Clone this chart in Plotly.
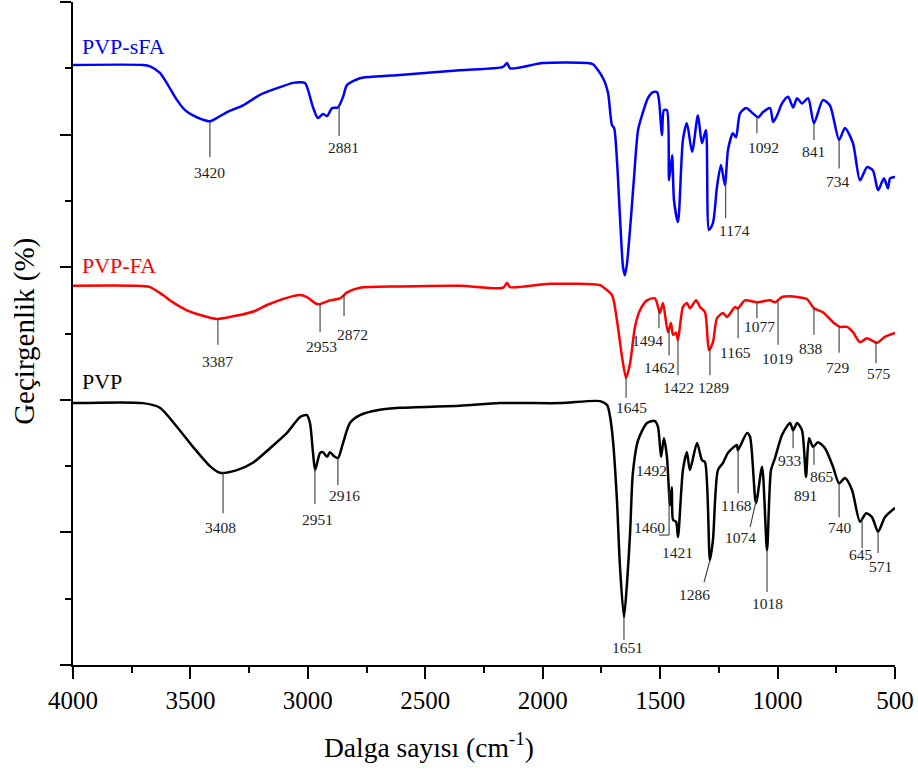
import numpy as np
import plotly.graph_objects as go

# ---------------- data (wavenumber in cm-1, transmittance in arbitrary %, curves offset) -------------
blue_wn = [4000, 3702, 3672, 3630, 3596, 3557, 3523, 3489, 3451, 3417, 3383, 3344, 3276, 3204, 3131,
           3063, 3033, 3012, 2999, 2978, 2957, 2936, 2918, 2897, 2872, 2850, 2833, 2778, 2693, 2608,
           2352, 2169, 2152, 2139, 1999, 1811, 1786, 1743, 1722, 1705, 1696, 1684, 1671, 1658, 1650,
           1641, 1624, 1611, 1594, 1573, 1552, 1530, 1513, 1505, 1492, 1484, 1471, 1462, 1449, 1441,
           1424, 1403, 1386, 1364, 1339, 1322, 1305, 1292, 1275, 1258, 1241, 1224, 1211, 1190, 1177,
           1160, 1134, 1105, 1083, 1062, 1032, 1019, 1002, 981, 955, 934, 917, 896, 870, 845,
           807, 777, 738, 713, 679, 649, 619, 594, 572, 547, 530, 521, 500]
blue_T = [90.5, 90.5, 90.3, 89.3, 87.5, 85.2, 83.7, 82.9, 82.3, 82.0, 82.6, 83.4, 84.4, 86.0, 87.0,
          87.8, 87.9, 87.8, 86.7, 84.1, 82.5, 83.1, 82.8, 84.0, 84.1, 85.7, 87.5, 88.5, 88.8, 89.0,
          89.7, 90.2, 90.8, 90.0, 90.8, 90.8, 90.6, 88.5, 86.3, 81.4, 81.0, 76.2, 67.6, 60.0, 58.8,
          60.6, 67.6, 73.6, 80.7, 83.4, 85.5, 86.4, 86.4, 85.2, 79.9, 83.7, 83.7, 73.1, 76.9, 70.1,
          66.8, 79.2, 81.7, 77.4, 82.9, 78.7, 80.7, 65.6, 66.7, 72.1, 75.4, 72.4, 77.7, 80.2, 79.6,
          83.2, 84.0, 83.2, 82.6, 83.4, 84.0, 81.9, 82.9, 84.7, 85.7, 84.1, 85.5, 84.7, 85.5, 81.7,
          85.2, 84.4, 79.2, 81.0, 78.7, 73.1, 75.1, 74.6, 71.6, 73.4, 71.9, 73.4, 73.6]

red_wn = [4000, 3745, 3672, 3617, 3574, 3515, 3459, 3387, 3289, 3225, 3174, 3097, 3033, 3004, 2957,
          2906, 2863, 2833, 2778, 2608, 2352, 2169, 2152, 2139, 1969, 1756, 1743, 1705, 1684, 1662,
          1645, 1628, 1607, 1586, 1556, 1522, 1501, 1488, 1467, 1454, 1445, 1432, 1424, 1403, 1386,
          1373, 1347, 1330, 1309, 1292, 1275, 1258, 1232, 1215, 1181, 1169, 1139, 1088, 1032, 1011,
          981, 947, 917, 875, 845, 807, 764, 734, 704, 679, 649, 619, 577, 543, 500]
red_T = [57.2, 57.2, 57.0, 55.8, 54.7, 53.5, 52.8, 52.2, 52.8, 53.4, 54.3, 55.3, 55.8, 55.5, 54.4,
         55.0, 55.3, 56.2, 56.9, 57.1, 57.2, 56.9, 57.6, 57.0, 57.5, 57.3, 57.0, 55.8, 52.0, 46.4,
         43.3, 45.5, 51.0, 53.5, 55.0, 55.3, 53.1, 54.6, 50.2, 51.6, 49.8, 50.1, 49.0, 54.0, 54.6,
         53.8, 55.0, 54.0, 53.2, 47.5, 48.7, 52.3, 53.1, 52.5, 54.0, 53.8, 55.0, 54.7, 55.0, 54.7,
         55.5, 55.6, 55.5, 55.2, 53.8, 53.2, 51.7, 51.0, 51.0, 50.2, 48.7, 49.3, 48.6, 49.5, 50.1]

black_wn = [4000, 3702, 3630, 3557, 3489, 3417, 3374, 3302, 3234, 3161, 3089, 3033, 3004, 2991, 2978,
            2969, 2948, 2936, 2918, 2906, 2889, 2872, 2850, 2821, 2778, 2693, 2608, 2352, 2182, 1926,
            1756, 1726, 1713, 1701, 1684, 1671, 1654, 1641, 1628, 1616, 1594, 1556, 1522, 1509, 1496,
            1484, 1471, 1458, 1450, 1445, 1432, 1424, 1403, 1386, 1373, 1343, 1322, 1309, 1288, 1275,
            1254, 1232, 1211, 1173, 1169, 1130, 1117, 1092, 1066, 1045, 1028, 1011, 981, 947, 934,
            917, 896, 879, 866, 849, 828, 798, 764, 738, 713, 683, 649, 623, 598, 572, 543, 500]
black_T = [39.5, 39.5, 38.8, 35.9, 32.9, 30.0, 29.0, 29.4, 30.5, 32.7, 35.0, 37.4, 37.7, 36.5, 32.0,
           29.4, 32.0, 32.1, 31.4, 32.1, 31.5, 31.2, 33.5, 36.5, 37.7, 38.5, 38.8, 39.1, 39.5, 39.5,
           39.8, 39.2, 37.4, 33.9, 24.9, 14.8, 7.2, 12.4, 19.9, 29.0, 33.9, 36.5, 36.8, 35.9, 31.4,
           34.2, 31.4, 24.1, 26.8, 21.9, 21.6, 19.3, 29.4, 32.1, 29.4, 33.5, 30.9, 30.6, 15.8, 18.9,
           29.4, 30.5, 32.0, 33.2, 32.4, 35.0, 34.4, 24.4, 29.9, 17.3, 29.4, 31.2, 34.7, 36.5, 35.4,
           36.5, 35.4, 28.4, 34.2, 32.9, 33.6, 32.7, 29.9, 27.4, 28.2, 26.4, 21.6, 22.9, 22.3, 20.1,
           22.3, 23.7]

series_names = ["PVP-sFA", "PVP-FA", "PVP"]
series_label_y = [93.3, 60.3, 42.8]

# peak labels: text, where the leader line leaves the curve, where it ends, where the text sits
blue_peak_labels = ["3420", "2881", "1174", "1092", "841", "734"]
blue_peak_x = [3417, 2867, 1221, 1088, 845, 738]
blue_tick_end_x = [3417, 2867, 1221, 1088, 845, 738]
blue_tick_end_y = [76.6, 79.8, 67.4, 80.2, 79.2, 74.9]
blue_label_x = [3417, 2850, 1185, 1062, 845, 743]
blue_label_y = [74.3, 78.0, 65.6, 78.1, 77.4, 73.0]

red_peak_labels = ["3387", "2953", "2872", "1645", "1494", "1462", "1422", "1289", "1165", "1077",
                   "1019", "838", "729", "575"]
red_peak_x = [3383, 2948, 2846, 1645, 1505, 1462, 1424, 1288, 1168, 1088, 998, 845, 738, 581]
red_tick_end_x = [3383, 2948, 2846, 1645, 1505, 1462, 1424, 1288, 1168, 1088, 998, 845, 738, 581]
red_tick_end_y = [48.3, 50.2, 52.6, 40.3, 50.8, 46.7, 43.7, 43.7, 49.3, 52.3, 48.3, 49.8, 47.1, 45.5]
red_label_x = [3383, 2940, 2808, 1620, 1552, 1501, 1420, 1271, 1181, 1079, 1002, 858, 743, 568]
red_label_y = [45.8, 48.1, 49.9, 38.9, 49.0, 44.9, 41.9, 41.9, 47.2, 51.0, 46.3, 47.8, 44.9, 44.0]

black_peak_labels = ["3408", "2951", "2916", "1651", "1492", "1460", "1421", "1286", "1168", "1074",
                     "1018", "933", "891", "865", "740", "645", "571"]
black_peak_x = [3361, 2970, 2872, 1654, None, 1462, None, 1288, 1168, 1088, 1045, 934, None, 845, 738, 640, 572]
black_tick_end_x = [3361, 2970, 2872, 1654, None, 1462, None, 1313, 1168, 1117, 1045, 934, None, 845, 738, 640, 572]
black_tick_end_y = [22.9, 24.3, 27.1, 3.8, None, 19.6, None, 12.5, 25.9, 20.8, 11.0, 32.7, None, 30.2, 22.3, 17.6, 16.9]
black_tick_foot_x = [None, None, None, None, None, 1505, None, None, None, None, None, None, None, None, None, None, None]
black_label_x = [3370, 2957, 2842, 1637, 1535, 1547, 1424, 1352, 1173, 1156, 1041, 947, 879, 811, 734, 645, 560]
black_label_y = [20.8, 22.0, 25.6, 2.6, 29.4, 20.8, 16.9, 10.6, 24.1, 19.2, 9.3, 30.8, 25.6, 28.4, 20.8, 16.7, 14.8]

x_ticks = [4000, 3500, 3000, 2500, 2000, 1500, 1000, 500]

# ---------------- figure -------------
FONT = "Liberation Serif"
colors = ["#0000FF", "#FF0000", "#000000"]
curves = [(blue_wn, blue_T), (red_wn, red_T), (black_wn, black_T)]

fig = go.Figure()
for (wn, T), c, name in zip(curves, colors, series_names):
    fig.add_trace(go.Scatter(x=wn, y=T, mode="lines", name=name, showlegend=False,
                             hoverinfo="skip",
                             line=dict(color=c, width=2.5, shape="spline", smoothing=0.7)))

shapes = []
annotations = []
peak_sets = [
    (blue_peak_labels, blue_peak_x, blue_tick_end_x, blue_tick_end_y, [None] * 6, blue_label_x, blue_label_y),
    (red_peak_labels, red_peak_x, red_tick_end_x, red_tick_end_y, [None] * 14, red_label_x, red_label_y),
    (black_peak_labels, black_peak_x, black_tick_end_x, black_tick_end_y, black_tick_foot_x, black_label_x, black_label_y),
]
LEAD = dict(color="#3a3a3a", width=1.1)
for (wn, T), (labs, px, ex, ey, fx, lx, ly) in zip(curves, peak_sets):
    wn_a = np.array(wn[::-1], dtype=float)
    T_a = np.array(T[::-1], dtype=float)
    for i, lab in enumerate(labs):
        if px[i] is not None:
            y0 = float(np.interp(px[i], wn_a, T_a))
            shapes.append(dict(type="line", xref="x", yref="y", x0=px[i], y0=y0,
                               x1=ex[i], y1=ey[i], line=LEAD))
            if fx[i] is not None:
                shapes.append(dict(type="line", xref="x", yref="y", x0=ex[i], y0=ey[i],
                                   x1=fx[i], y1=ey[i], line=LEAD))
        annotations.append(dict(x=lx[i], y=ly[i], xref="x", yref="y", text=lab, showarrow=False,
                                xanchor="center", yanchor="middle",
                                font=dict(family=FONT, size=15.5, color="#1e1e1e")))

for name, c, yv in zip(series_names, colors, series_label_y):
    annotations.append(dict(x=0.0085, y=yv, xref="paper", yref="y", text=name, showarrow=False,
                            xanchor="left", yanchor="middle",
                            font=dict(family=FONT, size=22, color=c)))

annotations.append(dict(x=0.4325, y=-0.1207, xref="paper", yref="paper",
                        text="Dalga sayısı (cm<sup>-1</sup>)", showarrow=False,
                        xanchor="center", yanchor="middle",
                        font=dict(family=FONT, size=27.5, color="#000")))
annotations.append(dict(x=-0.0584, y=0.504, xref="paper", yref="paper",
                        text="Geçirgenlik (%)", showarrow=False, textangle=-90,
                        xanchor="center", yanchor="middle",
                        font=dict(family=FONT, size=29, color="#000")))

fig.update_layout(
    width=918, height=771,
    font=dict(family=FONT, color="#000"),
    margin=dict(l=73, r=23, t=2, b=106),
    paper_bgcolor="white", plot_bgcolor="white",
    shapes=shapes, annotations=annotations,
    xaxis=dict(range=[4000, 500], tickmode="array", tickvals=x_ticks,
               ticks="outside", ticklen=12, tickwidth=2, tickcolor="#000",
               showline=True, linecolor="#000", linewidth=2.2, showgrid=False, zeroline=False,
               tickfont=dict(family=FONT, size=25, color="#000"),
               minor=dict(dtick=250, tick0=500, ticks="outside", ticklen=6, tickwidth=2, tickcolor="#000")),
    yaxis=dict(range=[0, 100], tickmode="linear", tick0=0, dtick=20, showticklabels=False,
               ticks="outside", ticklen=11, tickwidth=2, tickcolor="#000",
               showline=True, linecolor="#000", linewidth=2.2, showgrid=False, zeroline=False,
               minor=dict(dtick=10, tick0=0, ticks="outside", ticklen=6, tickwidth=2, tickcolor="#000")),
)

fig.write_html("out.html")
